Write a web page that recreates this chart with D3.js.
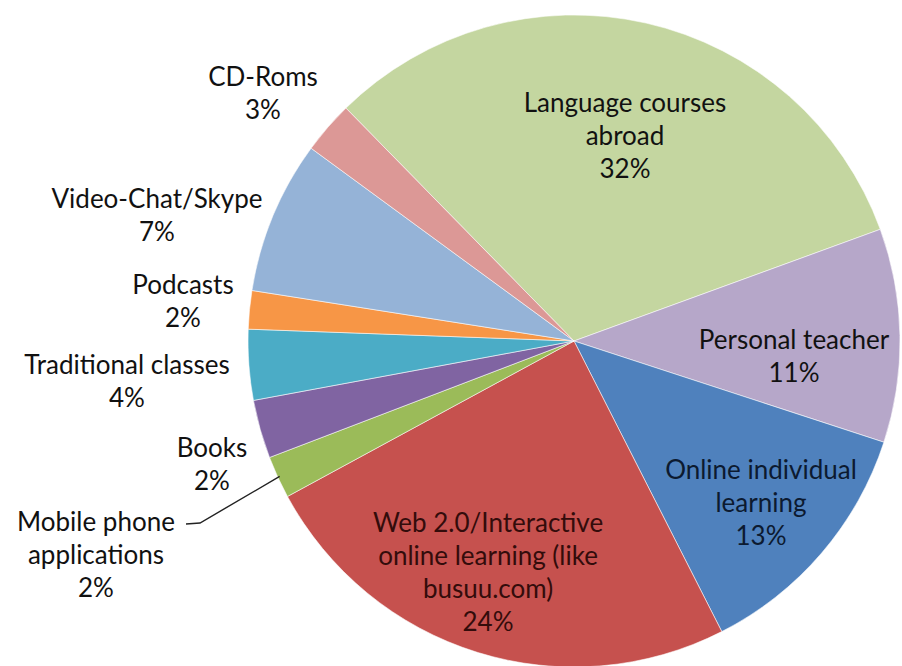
<!DOCTYPE html>
<html>
<head>
<meta charset="utf-8">
<script src="https://cdn.jsdelivr.net/npm/d3@7"></script>
<style>
  html, body { margin: 0; padding: 0; background: #ffffff; }
  svg { display: block; }
  text { font-family: Lato, "Open Sans", sans-serif; }
</style>
</head>
<body>
<svg id="chart" width="902" height="666"></svg>
<script>
// ---- data (clockwise from the Language courses slice) ----
const categories = [
  "Language courses abroad", "Personal teacher", "Online individual learning",
  "Web 2.0/Interactive online learning (like busuu.com)", "Mobile phone applications",
  "Books", "Traditional classes", "Podcasts", "Video-Chat/Skype", "CD-Roms"
];
const values = [31.8, 10.6, 12.5, 24.6, 2.1, 2.9, 3.5, 1.9, 7.6, 2.6];
const percentLabels = ["32%", "11%", "13%", "24%", "2%", "2%", "4%", "2%", "7%", "3%"];
const labelLines = [
  ["Language courses", "abroad"],
  ["Personal teacher"],
  ["Online individual", "learning"],
  ["Web 2.0/Interactive", "online learning (like", "busuu.com)"],
  ["Mobile phone", "applications"],
  ["Books"],
  ["Traditional classes"],
  ["Podcasts"],
  ["Video-Chat/Skype"],
  ["CD-Roms"]
];
const colors = ["#c4d6a0", "#b6a7c9", "#4f81bd", "#c6514e", "#9bbb59",
                "#8064a2", "#4bacc6", "#f79646", "#95b3d7", "#dc9896"];
const textColors = ["#111111", "#111111", "#0c1a30", "#330c0b", "#111111",
                    "#111111", "#111111", "#111111", "#111111", "#111111"];

// ---- layout ----
const cx = 574, cy = 341, R = 326;
const startDeg = -44.4;
const lineGap = 33;
// label block centers (first line) per slice
const labelPos = [
  [625, 103], [794, 340], [761, 470], [488, 523], [96, 522],
  [212, 448], [127, 365], [183, 285], [157, 199], [263, 77]
];

const svg = d3.select("#chart");
const g = svg.append("g").attr("transform", `translate(${cx},${cy})`);

const start = startDeg * Math.PI / 180;
const pie = d3.pie().sort(null).value(d => d).startAngle(start).endAngle(start + 2 * Math.PI);
const arc = d3.arc().innerRadius(0).outerRadius(R);
const arcs = pie(values);

g.selectAll("path.slice")
  .data(arcs)
  .enter().append("path")
  .attr("class", "slice")
  .attr("d", arc)
  .attr("fill", (d, i) => colors[i])
  .attr("stroke", "rgba(255,255,255,0.55)")
  .attr("stroke-width", 1);

// leader line for the Mobile phone label
const mob = arcs[4];
const midA = (mob.startAngle + mob.endAngle) / 2;
const edge = [cx + Math.sin(midA) * (R - 2), cy - Math.cos(midA) * (R - 2)];
svg.append("path")
  .attr("d", d3.line()([[186, 524], [200, 523], edge]))
  .attr("fill", "none")
  .attr("stroke", "#222")
  .attr("stroke-width", 1.4);

// labels
const lab = svg.selectAll("text.lab")
  .data(categories)
  .enter().append("text")
  .attr("class", "lab")
  .attr("text-anchor", "middle")
  .attr("font-size", 26)
  .attr("fill", (d, i) => textColors[i]);

lab.each(function(d, i) {
  const t = d3.select(this);
  const lines = labelLines[i].concat([percentLabels[i]]);
  lines.forEach((ln, k) => {
    t.append("tspan")
      .attr("x", labelPos[i][0])
      .attr("y", labelPos[i][1] + k * lineGap)
      .attr("dy", "0.35em")
      .text(ln);
  });
});
</script>
</body>
</html>
